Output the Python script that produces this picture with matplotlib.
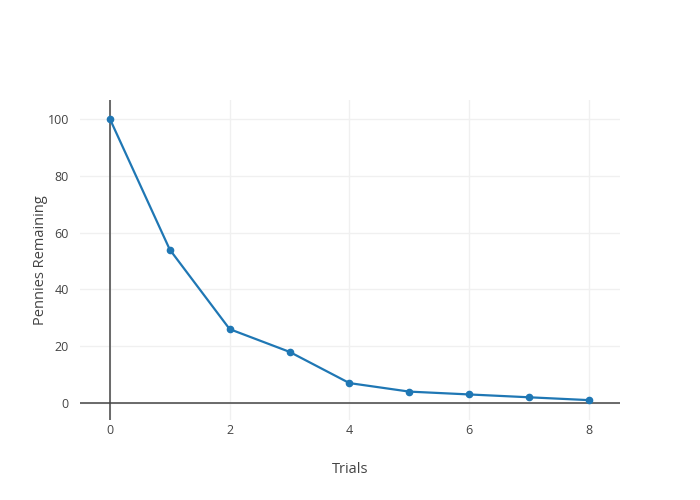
import matplotlib.pyplot as plt

# Pennies left after each trial
trials = [0, 1, 2, 3, 4, 5, 6, 7, 8]
pennies = [100, 54, 26, 18, 7, 4, 3, 2, 1]

plt.rcParams['font.family'] = ['Open Sans', 'DejaVu Sans']

fig = plt.figure(figsize=(7, 5), dpi=100)
ax = fig.add_axes([80 / 700, 0.16, 540 / 700, 0.64])

ax.plot(trials, pennies, marker='o', markersize=4.5, linestyle='-',
        linewidth=1.6, color='#1f77b4', zorder=3)

ax.set_xlim(-0.5, 8.52)
ax.set_ylim(-6, 106.7)
ax.set_xticks([0, 2, 4, 6, 8])
ax.set_yticks([0, 20, 40, 60, 80, 100])

# zero lines like plotly
ax.axhline(0, color='#444444', linewidth=1.1, zorder=2)
ax.axvline(0, color='#444444', linewidth=1.1, zorder=2)

ax.grid(True, color='#f0f0f0', linewidth=1, zorder=0)
for s in ax.spines.values():
    s.set_visible(False)
ax.tick_params(axis='y', length=0, labelsize=9, colors='#444444', pad=8)
ax.tick_params(axis='x', length=0, labelsize=9, colors='#444444', pad=3)

ax.set_xlabel('Trials', fontsize=10.5, color='#444444', labelpad=18)
ax.set_ylabel('Pennies Remaining', fontsize=10.5, color='#444444', labelpad=0)

fig.savefig('out.png', dpi=100)
